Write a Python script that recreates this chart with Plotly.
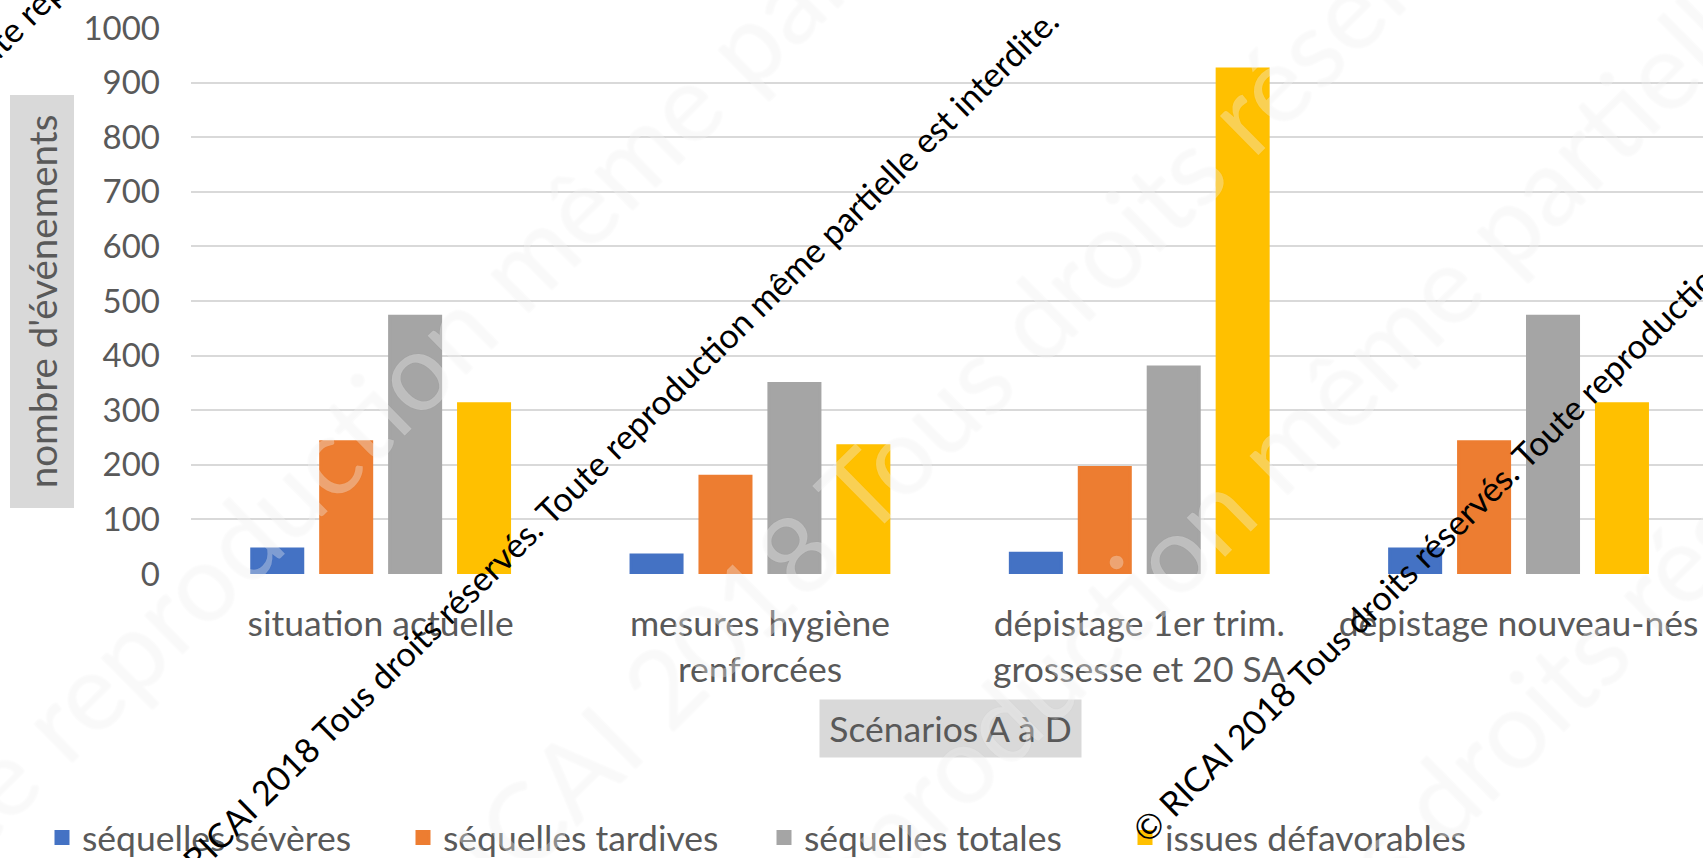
import plotly.graph_objects as go

# ---------------- data ----------------
categories = [
    "situation actuelle",
    "mesures hygiène<br>renforcées",
    "dépistage 1er trim.<br>grossesse et 20 SA",
    "dépistage nouveau-nés",
]
series_names = ["séquelles sévères", "séquelles tardives", "séquelles totales", "issues défavorables"]
sequelles_severes = [46, 35, 38, 46]
sequelles_tardives = [242, 179, 195, 242]
sequelles_totales = [472, 349, 379, 472]
issues_defavorables = [312, 235, 925, 312]
y_ticks = [0, 100, 200, 300, 400, 500, 600, 700, 800, 900, 1000]
y_title = "nombre d'événements"
x_title = "Scénarios A à D"
watermark = "© RICAI 2018 Tous droits réservés. Toute reproduction même partielle est interdite."

colors = ["#4472C4", "#ED7D31", "#A5A5A5", "#FFC000"]
FONT = "Lato, Carlito, 'Open Sans', sans-serif"
GREY_TXT = "#595959"

# ---------------- geometry (pixels) ----------------
W, H = 1703, 858
L, T, R = 191, 28, 0
PLOT_BOTTOM = 574
B = H - PLOT_BOTTOM
PW = W - L - R
PH = PLOT_BOTTOM - T


def px_x(px):
    return (px - L) / PW


def px_y(py):
    return (PLOT_BOTTOM - py) / PH


fig = go.Figure()
for name, vals, col in zip(series_names,
                           [sequelles_severes, sequelles_tardives, sequelles_totales, issues_defavorables],
                           colors):
    fig.add_trace(go.Bar(name=name, x=categories, y=vals,
                         marker=dict(color=col, line=dict(width=3, color=col)),
                         hoverinfo="x+y+name"))

cat_px = 379.3
x_range = [-0.5, -0.5 + PW / cat_px]

annotations = [
    dict(text=y_title, textangle=-90, xref="paper", yref="paper",
         x=px_x(41.5), y=px_y(302), xanchor="center", yanchor="middle", showarrow=False,
         font=dict(family=FONT, size=38.5, color=GREY_TXT), bgcolor="#D9D9D9",
         width=404, height=55, borderpad=4),
    dict(text=x_title, xref="paper", yref="paper",
         x=px_x(950), y=px_y(729), xanchor="center", yanchor="middle", showarrow=False,
         font=dict(family=FONT, size=35.5, color=GREY_TXT), bgcolor="#D9D9D9",
         width=253, height=49, borderpad=4),
]
# faint large background watermark rows
for cx, cy in [(34, 742), (1747, -386), (793, 924), (2151, 94)]:
    annotations.append(dict(text=watermark, textangle=-44.6, xref="paper", yref="paper",
                            x=px_x(cx), y=px_y(cy), xanchor="center", yanchor="middle",
                            showarrow=False,
                            font=dict(family=FONT, size=108, color="rgba(255,255,255,0.33)",
                                      shadow="0px 0px 2px rgba(0,0,0,0.10)")))
# black diagonal copyright lines
for cx, cy in [(606, 453), (1582, 397), (21, 19)]:
    annotations.append(dict(text=watermark, textangle=-44.6, xref="paper", yref="paper",
                            x=px_x(cx), y=px_y(cy), xanchor="center", yanchor="middle",
                            showarrow=False, font=dict(family=FONT, size=34.2, color="#000000")))

fig.update_layout(
    width=W, height=H,
    margin=dict(l=L, r=R, t=T, b=B, pad=0, autoexpand=False),
    paper_bgcolor="white", plot_bgcolor="white",
    barmode="group", bargap=0.273, bargroupgap=0.26,
    font=dict(family=FONT, color=GREY_TXT),
    xaxis=dict(type="category", range=x_range, showgrid=False, zeroline=False, showline=False,
               ticks="", tickfont=dict(family=FONT, size=35.5, color=GREY_TXT),
               ticklabelstandoff=25, fixedrange=True, automargin=False),
    yaxis=dict(range=[0, 1000], tickvals=y_ticks, showgrid=True, gridcolor="#D9D9D9", gridwidth=2.2,
               zeroline=False, showline=False, ticks="",
               tickfont=dict(family=FONT, size=33, color=GREY_TXT), ticklabelstandoff=30,
               fixedrange=True, automargin=False),
    showlegend=True,
    legend=dict(orientation="h", x=px_x(42), y=px_y(838), xanchor="left", yanchor="middle",
                font=dict(family=FONT, size=35.5, color=GREY_TXT), bgcolor="rgba(0,0,0,0)",
                entrywidth=316, traceorder="normal"),
    annotations=annotations,
)

fig.write_html("out.html", include_plotlyjs=True, config={"displayModeBar": False})
